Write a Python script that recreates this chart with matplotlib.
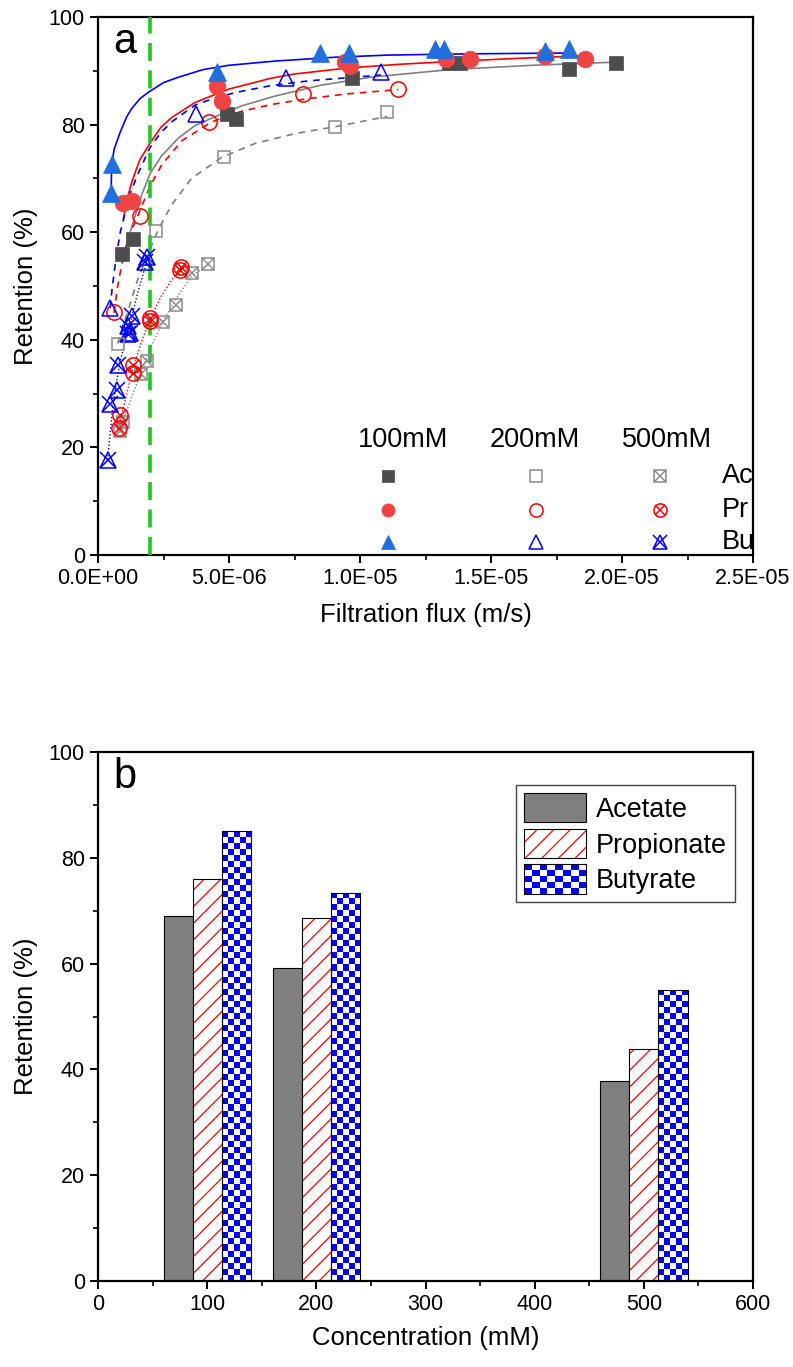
import numpy as np
import matplotlib
matplotlib.use("Agg")
import matplotlib.pyplot as plt
from matplotlib.colors import ListedColormap
from matplotlib.patches import Patch, Rectangle
from matplotlib.legend_handler import HandlerBase
from matplotlib.ticker import FuncFormatter, MultipleLocator

plt.rcParams["font.family"] = ["Liberation Sans", "DejaVu Sans"]
plt.rcParams["hatch.linewidth"] = 0.9

# ---------- (a) 截留率 vs 通量, x 单位 1e-6 m/s ----------
ac100_x = [0.93, 1.35, 4.91, 5.25, 9.68, 13.4, 13.8, 17.99, 19.77]
ac100_y = [55.9, 58.8, 81.9, 81.0, 88.7, 91.4, 91.4, 90.4, 91.4]
pr100_x = [0.97, 1.29, 4.53, 4.72, 9.43, 9.6, 13.3, 14.2, 17.06, 18.6]
pr100_y = [65.5, 65.8, 87.2, 84.4, 91.6, 90.8, 92.2, 92.2, 92.8, 92.2]
bu100_x = [0.50, 0.52, 4.53, 8.47, 9.58, 12.86, 13.2, 17.06, 17.99]
bu100_y = [67.2, 72.6, 89.7, 93.3, 93.3, 94.0, 94.0, 93.7, 94.0]

ac200_x = [0.75, 2.21, 4.82, 9.05, 11.04]
ac200_y = [39.3, 60.2, 73.9, 79.6, 82.4]
pr200_x = [0.61, 1.6, 4.25, 7.84, 11.46]
pr200_y = [45.1, 63.0, 80.4, 85.7, 86.6]
bu200_x = [0.46, 3.73, 7.18, 10.8]
bu200_y = [45.9, 81.9, 88.6, 89.8]

ac500_x = [0.84, 0.97, 1.63, 1.88, 2.49, 2.96, 3.57, 4.21]
ac500_y = [23.0, 24.8, 33.6, 36.0, 43.3, 46.4, 52.4, 54.0]
pr500_x = [0.80, 0.84, 1.32, 1.32, 2.0, 2.0, 3.13, 3.17]
pr500_y = [23.6, 26.1, 33.8, 35.4, 43.5, 44.1, 53.0, 53.6]
bu500_x = [0.37, 0.46, 0.71, 0.78, 1.16, 1.22, 1.16, 1.28, 1.80, 1.86]
bu500_y = [17.7, 28.1, 30.7, 35.4, 41.0, 41.3, 42.5, 44.5, 54.4, 55.4]

# 拟合曲线(从图上读点)
fit_ac100_x = [0.93, 1.1, 1.35, 1.67, 2.0, 2.43, 3.07, 3.7, 4.34, 5.5, 6.76, 8.5, 10.4, 13.4, 16.5, 19.77]
fit_ac100_y = [55.0, 58.0, 62.0, 67.0, 71.0, 74.2, 77.5, 79.8, 81.2, 83.5, 85.3, 87.3, 88.8, 90.2, 91.0, 91.6]
fit_pr100_x = [0.97, 1.1, 1.3, 1.6, 1.98, 2.4, 2.81, 3.7, 5.0, 6.6, 7.5, 9.5, 11.5, 13.4, 16.0, 18.6]
fit_pr100_y = [62.5, 66.0, 69.5, 73.5, 76.5, 79.5, 81.3, 84.1, 86.6, 88.6, 89.4, 90.5, 91.2, 91.7, 92.3, 92.8]
fit_bu100_x = [0.50, 0.52, 0.62, 0.84, 1.1, 1.29, 1.6, 1.92, 2.5, 3.07, 4.0, 4.97, 6.76, 9.0, 11.0, 13.4, 15.5, 18.0]
fit_bu100_y = [67.2, 72.6, 75.5, 78.5, 81.5, 83.0, 84.8, 86.0, 87.8, 88.8, 90.2, 91.0, 91.8, 92.5, 92.9, 93.1, 93.2, 93.3]

fit_ac200_x = [0.75, 0.95, 1.16, 1.5, 1.92, 2.3, 2.8, 3.57, 4.72, 6.0, 7.5, 9.05, 11.04]
fit_ac200_y = [39.3, 42.5, 45.6, 51.0, 56.0, 60.5, 65.0, 70.0, 73.9, 76.5, 78.3, 79.6, 81.5]
fit_pr200_x = [0.61, 0.75, 0.95, 1.2, 1.54, 1.98, 2.43, 3.2, 4.34, 5.5, 6.7, 8.0, 9.5, 11.46]
fit_pr200_y = [45.0, 50.0, 55.0, 59.5, 63.3, 68.5, 72.5, 77.0, 80.5, 82.5, 83.8, 84.8, 85.7, 86.5]
fit_bu200_x = [0.46, 0.55, 0.71, 0.85, 1.03, 1.25, 1.54, 1.98, 2.4, 2.81, 3.7, 4.6, 5.5, 6.56, 8.0, 9.5, 10.8]
fit_bu200_y = [45.9, 50.0, 55.9, 60.0, 63.5, 67.5, 71.0, 75.7, 78.5, 80.5, 83.6, 85.2, 86.2, 87.2, 88.1, 88.7, 89.2]

fit_ac500_x = [0.84, 1.0, 1.3, 1.63, 2.0, 2.49, 2.96, 3.57, 4.21]
fit_ac500_y = [23.0, 25.5, 29.5, 33.8, 38.5, 43.5, 47.5, 51.8, 54.0]
fit_pr500_x = [0.80, 0.9, 1.05, 1.32, 1.65, 2.0, 2.4, 2.8, 3.15]
fit_pr500_y = [23.5, 26.0, 29.0, 34.5, 39.5, 44.0, 48.0, 51.0, 53.3]
fit_bu500_x = [0.37, 0.45, 0.55, 0.7, 0.85, 1.05, 1.28, 1.5, 1.86]
fit_bu500_y = [17.7, 22.0, 27.0, 32.0, 36.0, 40.0, 44.0, 48.5, 54.5]

flux_limit = 2.0  # 1e-6 m/s, 绿色虚线

# ---------- (b) 柱状图 ----------
conc = [100, 200, 500]
acetate = [69.0, 59.1, 37.8]
propionate = [75.9, 68.7, 43.9]
butyrate = [85.0, 73.3, 55.0]

C_DARK = "#4d4d4d"
C_GRAY = "#8c8c8c"
C_RED_F = "#ef4444"
C_RED = "#ff0000"
C_BLUE_F = "#1f6fde"
C_BLUE = "#0000ff"


def series(ax, x, y, marker, color, style, ms, tr=None):
    kw = dict(ls="none", zorder=5, clip_on=False)
    if tr is not None:
        kw["transform"] = tr
    if style == "filled":
        ax.plot(x, y, marker=marker, ms=ms, mfc=color, mec=color, mew=0.5, **kw)
    else:
        ax.plot(x, y, marker=marker, ms=ms, mfc="none", mec=color, mew=1.1, **kw)
        if style == "cross":
            xs = ms * (0.72 if marker == "o" else 1.0)
            ax.plot(x, y, marker="x", ms=xs, mec=color, mew=1.1, **kw)


fig = plt.figure(figsize=(7.93, 13.67), dpi=100)
ax = fig.add_axes([0.1236, 0.594, 0.826, 0.3936])

E = 1e-6
lw = 1.2
ax.plot(np.array(fit_ac100_x) * E, fit_ac100_y, color="#808080", lw=lw)
ax.plot(np.array(fit_pr100_x) * E, fit_pr100_y, color=C_RED, lw=lw)
ax.plot(np.array(fit_bu100_x) * E, fit_bu100_y, color=C_BLUE, lw=lw)
dash = (0, (4, 3.5))
ax.plot(np.array(fit_ac200_x) * E, fit_ac200_y, color="#808080", lw=lw, ls=dash)
ax.plot(np.array(fit_pr200_x) * E, fit_pr200_y, color=C_RED, lw=lw, ls=dash)
ax.plot(np.array(fit_bu200_x) * E, fit_bu200_y, color=C_BLUE, lw=lw, ls=dash)
dot = (0, (1, 1.5))
ax.plot(np.array(fit_ac500_x) * E, fit_ac500_y, color="#808080", lw=1.0, ls=dot)
ax.plot(np.array(fit_pr500_x) * E, fit_pr500_y, color=C_RED, lw=1.0, ls=dot)
ax.plot(np.array(fit_bu500_x) * E, fit_bu500_y, color=C_BLUE, lw=1.0, ls=dot)

ax.axvline(flux_limit * E, color="#1ec81e", lw=2.6, ls=(0, (5, 2.6)), zorder=3)

series(ax, np.array(ac500_x) * E, ac500_y, "s", C_GRAY, "cross", 8.5)
series(ax, np.array(pr500_x) * E, pr500_y, "o", C_RED, "cross", 11)
series(ax, np.array(bu500_x) * E, bu500_y, "^", C_BLUE, "cross", 12)
series(ax, np.array(ac200_x) * E, ac200_y, "s", C_GRAY, "open", 9)
series(ax, np.array(pr200_x) * E, pr200_y, "o", C_RED, "open", 11)
series(ax, np.array(bu200_x) * E, bu200_y, "^", C_BLUE, "open", 12)
series(ax, np.array(ac100_x) * E, ac100_y, "s", C_DARK, "filled", 10)
series(ax, np.array(pr100_x) * E, pr100_y, "o", C_RED_F, "filled", 12)
series(ax, np.array(bu100_x) * E, bu100_y, "^", C_BLUE_F, "filled", 12.5)

# 自制图例(3 x 3 矩阵)
tr = ax.transAxes
col_x = [0.442, 0.668, 0.858]
head_x = [0.466, 0.666, 0.868]
row_y = [0.147, 0.084, 0.024]
for hx, t in zip(head_x, ["100mM", "200mM", "500mM"]):
    ax.text(hx, 0.214, t, transform=tr, ha="center", va="center", fontsize=19.5)
for ry, t in zip(row_y, ["Ac", "Pr", "Bu"]):
    ax.text(0.952, ry, t, transform=tr, ha="left", va="center", fontsize=19.5)
leg_rows = [("s", C_DARK, C_GRAY, C_GRAY, 8),
            ("o", C_RED_F, C_RED, C_RED, 9.5),
            ("^", C_BLUE_F, C_BLUE, C_BLUE, 10.5)]
for ry, (m, cf, co, cc, ms) in zip(row_y, leg_rows):
    series(ax, [col_x[0]], [ry], m, cf, "filled", ms, tr)
    series(ax, [col_x[1]], [ry], m, co, "open", ms, tr)
    series(ax, [col_x[2]], [ry], m, cc, "cross", ms, tr)

ax.text(0.023, 0.99, "a", transform=tr, ha="left", va="top", fontsize=30)

ax.set_xlim(0, 2.5e-5)
ax.set_ylim(0, 100)
ax.xaxis.set_major_locator(MultipleLocator(5e-6))
ax.xaxis.set_minor_locator(MultipleLocator(2.5e-6))
ax.yaxis.set_major_locator(MultipleLocator(20))
ax.yaxis.set_minor_locator(MultipleLocator(10))
ax.xaxis.set_major_formatter(FuncFormatter(lambda v, p: f"{v:.1E}"))
ax.set_xlabel("Filtration flux (m/s)", fontsize=18.5, labelpad=10)
ax.set_ylabel("Retention (%)", fontsize=18.5, labelpad=8)


def style_axes(a):
    for s in a.spines.values():
        s.set_linewidth(1.6)
    a.tick_params(which="major", direction="out", length=6, width=1.4, labelsize=15.5)
    a.tick_params(which="minor", direction="out", length=3.5, width=1.2)
    a.tick_params(top=False, right=False, which="both")


style_axes(ax)

# ---------- (b) ----------
bx = fig.add_axes([0.1236, 0.0629, 0.826, 0.387])
w = 80 / 3
xs = np.array(conc, dtype=float)
bx.bar(xs - w, acetate, w, color="#808080", edgecolor="black", lw=0.8, zorder=2)
bx.bar(xs, propionate, w, color="white", edgecolor=C_RED, lw=0, hatch="//", zorder=2)
bx.bar(xs, propionate, w, color="none", edgecolor="black", lw=0.8, zorder=3)
bars = bx.bar(xs + w, butyrate, w, color="white", edgecolor="black", lw=0.8, zorder=3)

checker = ListedColormap(["white", C_BLUE])
for r in bars:
    x0, hgt = r.get_x(), r.get_height()
    nx = 5
    ny = int(round(hgt / 1.15))
    grid = np.indices((ny, nx)).sum(axis=0) % 2
    im = bx.imshow(grid, extent=(x0, x0 + w, 0, ny * 1.15), origin="lower",
                   cmap=checker, interpolation="nearest", aspect="auto", zorder=2.5)
    im.set_clip_path(r)
    r.set_facecolor("none")


class CheckerHandler(HandlerBase):
    def create_artists(self, legend, orig, xd, yd, width, height, fontsize, trans):
        out = []
        nx, ny = 8, 5
        for i in range(nx):
            for j in range(ny):
                if (i + j) % 2 == 0:
                    out.append(Rectangle((-xd + i * width / nx, -yd + j * height / ny),
                                         width / nx, height / ny, fc=C_BLUE, ec="none",
                                         transform=trans))
        out.append(Rectangle((-xd, -yd), width, height, fc="none", ec="black",
                             lw=0.8, transform=trans))
        return out


h_ac = Patch(facecolor="#808080", edgecolor="black", lw=0.8)
h_pr = (Patch(facecolor="white", edgecolor=C_RED, lw=0, hatch="//"),
        Patch(facecolor="none", edgecolor="black", lw=0.8))
h_bu = Rectangle((0, 0), 1, 1)
leg = bx.legend([h_ac, h_pr, h_bu], ["Acetate", "Propionate", "Butyrate"],
                handler_map={Rectangle: CheckerHandler()},
                loc="upper left", bbox_to_anchor=(0.638, 0.938), fontsize=19.5,
                handlelength=2.3, handleheight=1.3, handletextpad=0.35,
                labelspacing=0.22, borderpad=0.3, borderaxespad=0,
                fancybox=False, framealpha=1, edgecolor="#444444")
leg.get_frame().set_linewidth(1.0)

bx.text(0.023, 0.99, "b", transform=bx.transAxes, ha="left", va="top", fontsize=30)
bx.set_xlim(0, 600)
bx.set_ylim(0, 100)
bx.xaxis.set_major_locator(MultipleLocator(100))
bx.xaxis.set_minor_locator(MultipleLocator(50))
bx.yaxis.set_major_locator(MultipleLocator(20))
bx.yaxis.set_minor_locator(MultipleLocator(10))
bx.set_xlabel("Concentration (mM)", fontsize=18.5, labelpad=8)
bx.set_ylabel("Retention (%)", fontsize=18.5, labelpad=8)
style_axes(bx)

fig.savefig("out.png", dpi=100)
